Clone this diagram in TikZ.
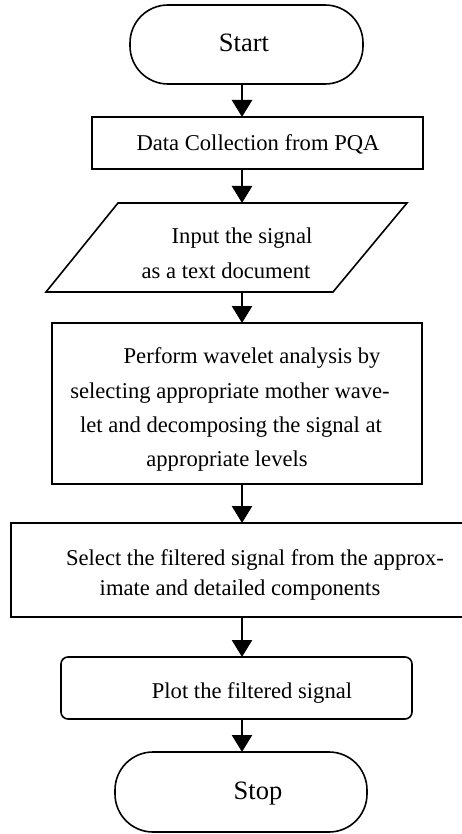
\documentclass[tikz,border=0pt]{standalone}
\usepackage{fontspec}
\setmainfont{Liberation Serif}
\usetikzlibrary{arrows.meta}
\begin{document}
\begin{tikzpicture}[x=1pt,y=-1pt,
  term/.style={draw=black,line width=1.6pt,rounded corners=38pt,inner sep=0pt,outer sep=0pt},
  proc/.style={draw=black,line width=1.6pt,inner sep=0pt,outer sep=0pt},
  txt/.style={anchor=base,inner sep=0pt,outer sep=0pt,font=\fontsize{22.6}{27}\selectfont},
  bigtxt/.style={anchor=base,inner sep=0pt,outer sep=0pt,font=\fontsize{26.5}{30}\selectfont},
  arr/.style={line width=2.6pt,-{Triangle[width=20pt,length=17pt]}}
]
\useasboundingbox (0,0) rectangle (462,834);
\coordinate (axis) at (242,0);

% shapes
\node[term,minimum width=233pt,minimum height=79pt] (start) at (246.5,44.5) {};
\node[proc,minimum width=331pt,minimum height=52pt] (data) at (257.5,143) {};
\coordinate (inTL) at (118,203);
\coordinate (inTR) at (407,203);
\coordinate (inBR) at (333,292);
\coordinate (inBL) at (46,292);
\draw[line width=1.6pt,line join=miter] (inTL) -- (inTR) -- (inBR) -- (inBL) -- cycle;
\node[proc,minimum width=370pt,minimum height=161pt] (wave) at (237,403.5) {};
\node[proc,minimum width=459pt,minimum height=94pt] (select) at (240.5,570) {};
\node[proc,rounded corners=7pt,minimum width=351pt,minimum height=62pt] (plot) at (236.5,688) {};
\node[term,minimum width=252pt,minimum height=80pt] (stop) at (241,792) {};

% texts
\node[bigtxt] (tstart) at (244,52) {Start};
\node[txt] (tdata) at (258,151) {Data Collection from PQA};
\node[txt] (tin1) at (242,243) {Input the signal};
\node[txt] (tin2) at (226,278) {as a text document};
\node[txt] (tw1) at (252,363) {Perform wavelet analysis by};
\node[txt] (tw2) at (230,398) {selecting appropriate mother wave-};
\node[txt] (tw3) at (231,432) {let and decomposing the signal at};
\node[txt] (tw4) at (227,466) {appropriate levels};
\node[txt] (ts1) at (255,565) {Select the filtered signal from the approx-};
\node[txt] (ts2) at (240,595) {imate and detailed components};
\node[txt] (tplot) at (252,698) {Plot the filtered signal};
\node[bigtxt] (tstop) at (258,799) {Stop};

% connectors
\draw[arr] (start.south -| axis) -- (data.north -| axis);
\draw[arr] (data.south -| axis) -- (inTL -| axis);
\draw[arr] (inBL -| axis) -- (wave.north -| axis);
\draw[arr] (wave.south -| axis) -- (select.north -| axis);
\draw[arr] (select.south -| axis) -- (plot.north -| axis);
\draw[arr] (plot.south -| axis) -- (stop.north -| axis);
\end{tikzpicture}
\end{document}
